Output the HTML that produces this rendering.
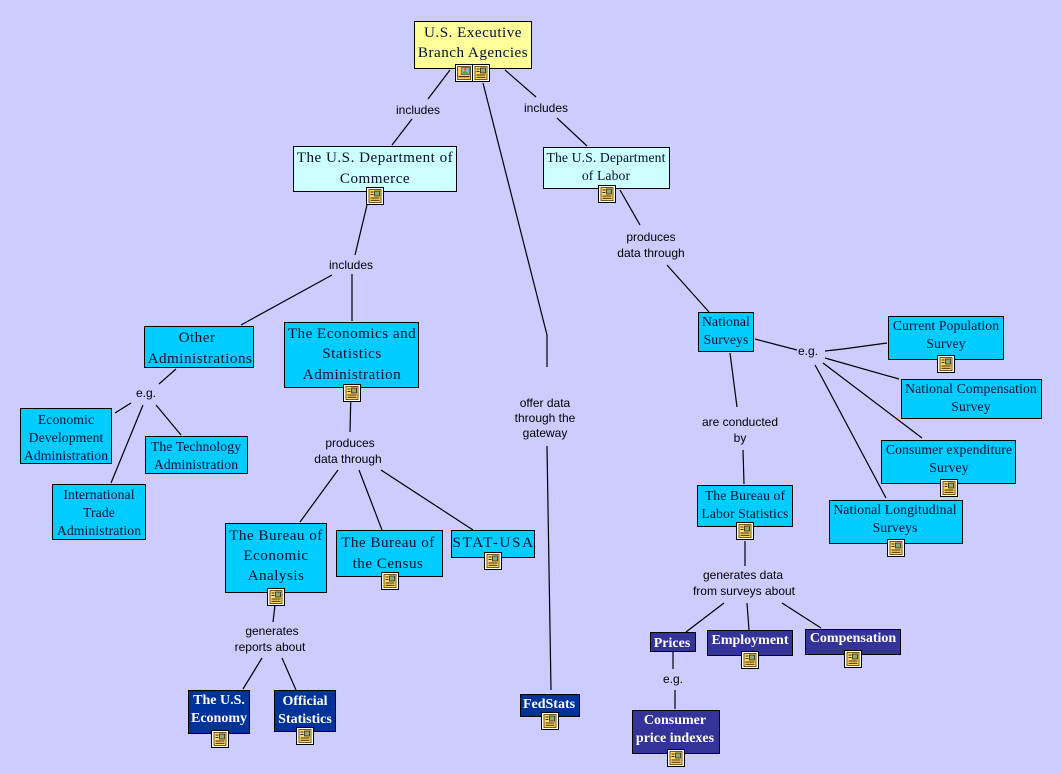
<!DOCTYPE html>
<html><head><meta charset="utf-8"><style>
html,body{margin:0;padding:0;background:#ccccff}
svg{display:block}
.n{font-family:"Liberation Serif",serif;font-size:15.1px;text-anchor:middle;letter-spacing:.5px;fill:#001030}
.s{font-size:13.7px;letter-spacing:.1px}
.b{font-weight:bold;fill:#fff;font-size:14px;letter-spacing:0}
.l{font-family:"Liberation Sans",sans-serif;font-size:12px;text-anchor:middle;fill:#000}
rect.x{stroke:#000;stroke-width:1}
path{fill:none;stroke:#000;stroke-width:1.2}
</style></head><body>
<svg xmlns="http://www.w3.org/2000/svg" width="1062" height="774" viewBox="0 0 1062 774">
<defs>
<g id="i">
<rect x="0.5" y="0.5" width="17" height="17" fill="#fff" stroke="#000"/>
<rect x="3" y="2.5" width="12" height="13" fill="#fd6" stroke="#640" stroke-width=".9"/>
<rect x="8.500" y="4" width="5" height="5" fill="#8a7" stroke="#321" stroke-width=".8"/>
<rect x="4.500" y="4.500" width="3" height="1" fill="#420"/>
<rect x="4.500" y="7" width="3" height="1" fill="#420"/>
<rect x="4.500" y="10.500" width="9" height="1" fill="#420"/>
<rect x="4.500" y="12.800" width="9" height="1" fill="#420"/>
</g>
<g id="p">
<rect x="0.5" y="0.5" width="17" height="17" fill="#fff" stroke="#000"/>
<rect x="2.500" y="2.500" width="13" height="13" fill="#fc5" stroke="#640" stroke-width=".9"/>
<rect x="6.500" y="3.500" width="8" height="7" fill="#7bd" stroke="#321" stroke-width=".5"/>
<path d="M7 10L10 6.500L14 10Z" style="fill:#5a3;stroke:none"/>
<rect x="9" y="4" width="2.500" height="2.500" fill="#e63"/>
<rect x="3.500" y="12" width="11" height="1.200" fill="#420"/>
</g>
</defs>
<rect width="1062" height="774" fill="#ccccff"/>

<path d="M450 70L428 99M412 119L392 145M505 70L536 97M557 118L587 146M483 83L547 335V367M547 446L551 690"/>
<path d="M367 205L355 255M332 275L241 325M352 274V321"/>
<path d="M620 190L640 225M667 265L709 312"/>
<path d="M176 369L159 384M131 403L115 413M143 405L111 483M156 405L181 435"/>
<path d="M351 389L350 432M338 470L300 522M359 470L382 530M381 470L473 530"/>
<path d="M275 605L273 622M262 658L243 689M282 658L296 690"/>
<path d="M730 353L737 407M743 450L744 484M755 339L797 350M825 351L843 349L887 343M825 358L899 379M823 363L922 438M815 365L820 374L886 498"/>
<path d="M745 541V566M724 603L686 632M747 603L749 630M782 603L821 628M673 652V669M675 690V709"/>

<rect class="x" x="414.500" y="21.500" width="117" height="47" fill="#ffff99"/>
<text class="n" x="473" y="37">U.S. Executive</text>
<text class="n" x="473" y="57">Branch Agencies</text>
<use href="#p" x="455" y="64"/><use href="#i" x="472" y="64"/>

<rect class="x" x="293.500" y="146.500" width="163" height="45" fill="#ccffff"/>
<text class="n" x="375" y="162">The U.S. Department of</text>
<text class="n" x="375" y="183">Commerce</text>
<use href="#i" x="366" y="187"/>

<rect class="x" x="543.500" y="147.500" width="126" height="41" fill="#ccffff"/>
<text class="n s" x="606" y="162">The U.S. Department</text>
<text class="n s" x="606" y="180">of Labor</text>
<use href="#i" x="598" y="185"/>

<rect class="x" x="144.500" y="326.500" width="109" height="41" fill="#00ccff"/>
<text class="n" x="197" y="342">Other</text>
<text class="n" x="200" y="363">Administrations</text>

<rect class="x" x="284.500" y="322.500" width="134" height="65" fill="#00ccff"/>
<text class="n" x="352" y="338">The Economics and</text>
<text class="n" x="352" y="358">Statistics</text>
<text class="n" x="352" y="379">Administration</text>
<use href="#i" x="343" y="384"/>

<rect class="x" x="20.500" y="408.500" width="91" height="55" fill="#00ccff"/>
<text class="n s" x="66" y="424">Economic</text>
<text class="n s" x="66" y="442">Development</text>
<text class="n s" x="66" y="460">Administration</text>

<rect class="x" x="145.500" y="436.500" width="102" height="37" fill="#00ccff"/>
<text class="n s" x="196" y="451">The Technology</text>
<text class="n s" x="196" y="469">Administration</text>

<rect class="x" x="52.500" y="484.500" width="93" height="55" fill="#00ccff"/>
<text class="n s" x="99" y="499">International</text>
<text class="n s" x="99" y="517">Trade</text>
<text class="n s" x="99" y="535">Administration</text>

<rect class="x" x="225.500" y="523.500" width="101" height="69" fill="#00ccff"/>
<text class="n" x="276" y="540">The Bureau of</text>
<text class="n" x="276" y="560">Economic</text>
<text class="n" x="276" y="580">Analysis</text>
<use href="#i" x="267" y="588"/>

<rect class="x" x="336.500" y="530.500" width="106" height="46" fill="#00ccff"/>
<text class="n" x="388" y="547">The Bureau of</text>
<text class="n" x="388" y="568">the Census</text>
<use href="#i" x="381" y="572"/>

<rect class="x" x="451.500" y="530.500" width="83" height="27" fill="#00ccff"/>
<text class="n" x="493" y="547" textLength="81">STAT-USA</text>
<use href="#i" x="484" y="552"/>

<rect class="x" x="698.500" y="312.500" width="55" height="39" fill="#00ccff"/>
<text class="n s" x="726" y="326">National</text>
<text class="n s" x="726" y="344">Surveys</text>

<rect class="x" x="697.500" y="485.500" width="95" height="41" fill="#00ccff"/>
<text class="n s" x="745" y="500">The Bureau of</text>
<text class="n s" x="745" y="518">Labor Statistics</text>
<use href="#i" x="736" y="522"/>

<rect class="x" x="888.500" y="316.500" width="115" height="43" fill="#00ccff"/>
<text class="n s" x="946" y="330">Current Population</text>
<text class="n s" x="946" y="348">Survey</text>
<use href="#i" x="937" y="355"/>

<rect class="x" x="901.500" y="379.500" width="140" height="39" fill="#00ccff"/>
<text class="n s" x="971" y="393">National Compensation</text>
<text class="n s" x="971" y="411">Survey</text>

<rect class="x" x="881.500" y="440.500" width="134" height="43" fill="#00ccff"/>
<text class="n s" x="949" y="454">Consumer expenditure</text>
<text class="n s" x="949" y="472">Survey</text>
<use href="#i" x="940" y="479"/>

<rect class="x" x="829.500" y="500.500" width="133" height="43" fill="#00ccff"/>
<text class="n s" x="895" y="514">National Longitudinal</text>
<text class="n s" x="895" y="532">Surveys</text>
<use href="#i" x="887" y="539"/>

<rect class="x" x="650.500" y="632.500" width="45" height="19" fill="#333399"/>
<text class="n b" x="672" y="647">Prices</text>

<rect class="x" x="707.500" y="630.500" width="85" height="25" fill="#333399"/>
<text class="n b" x="750" y="644">Employment</text>
<use href="#i" x="741" y="651"/>

<rect class="x" x="805.500" y="629.500" width="95" height="25" fill="#333399"/>
<text class="n b" x="853" y="642">Compensation</text>
<use href="#i" x="844" y="650"/>

<rect class="x" x="632.500" y="710.500" width="87" height="43" fill="#333399"/>
<text class="n b" x="675" y="724">Consumer</text>
<text class="n b" x="675" y="742">price indexes</text>
<use href="#i" x="667" y="749"/>

<rect class="x" x="188.500" y="690.500" width="61" height="43" fill="#003399"/>
<text class="n b" x="219" y="704">The U.S.</text>
<text class="n b" x="219" y="722">Economy</text>
<use href="#i" x="211" y="730"/>

<rect class="x" x="274.500" y="690.500" width="61" height="41" fill="#003399"/>
<text class="n b" x="305" y="705">Official</text>
<text class="n b" x="305" y="723">Statistics</text>
<use href="#i" x="296" y="727"/>

<rect class="x" x="520.500" y="694.500" width="59" height="22" fill="#003399"/>
<text class="n b" x="549" y="708">FedStats</text>
<use href="#i" x="541" y="712"/>

<text class="l" x="418" y="114">includes</text>
<text class="l" x="546" y="112">includes</text>
<text class="l" x="351" y="269">includes</text>
<text class="l" x="651" y="241">produces</text>
<text class="l" x="651" y="257">data through</text>
<text class="l" x="146" y="397">e.g.</text>
<text class="l" x="350" y="447">produces</text>
<text class="l" x="348" y="463">data through</text>
<text class="l" x="272" y="635">generates</text>
<text class="l" x="270" y="651">reports about</text>
<text class="l" x="545" y="407">offer data</text>
<text class="l" x="545" y="422">through the</text>
<text class="l" x="545" y="437">gateway</text>
<text class="l" x="808" y="355">e.g.</text>
<text class="l" x="740" y="426">are conducted</text>
<text class="l" x="740" y="442">by</text>
<text class="l" x="743" y="579">generates data</text>
<text class="l" x="744" y="595">from surveys about</text>
<text class="l" x="673" y="683">e.g.</text>
</svg>
</body></html>
